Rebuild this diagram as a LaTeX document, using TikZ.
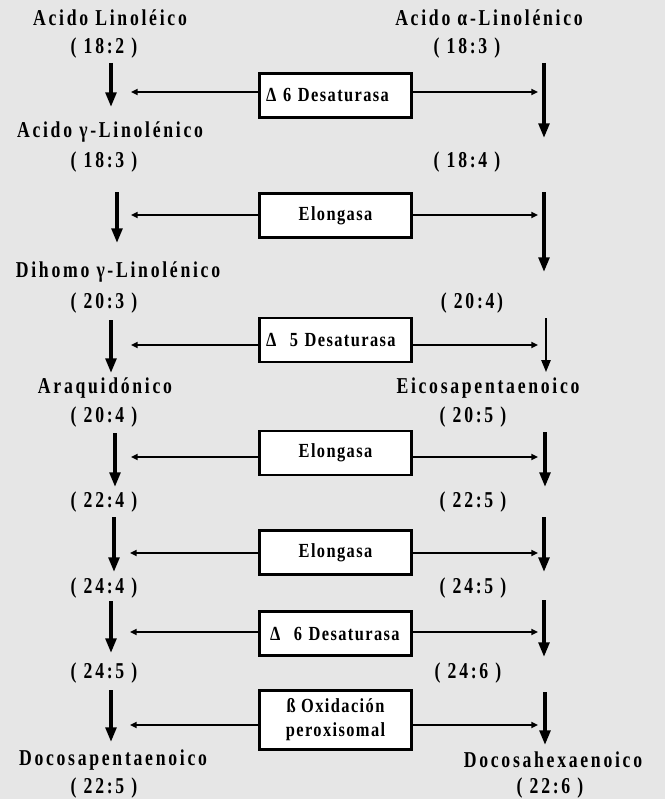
\documentclass[tikz,border=0pt]{standalone}
\usepackage{fontspec}
\setmainfont{Liberation Serif}
\newfontfamily\lblfont[LetterSpace=12,FakeStretch=0.78]{Liberation Serif}
\newfontfamily\enzfont[LetterSpace=7,FakeStretch=0.82]{Liberation Serif}
\usetikzlibrary{arrows.meta}
\definecolor{bg}{HTML}{E6E6E6}
\tikzset{
  lbl/.style={font=\lblfont\bfseries\fontsize{17}{19}\selectfont, inner sep=0pt, anchor=center},
  enz/.style={draw, fill=white, line width=2.2pt, minimum width=114pt, minimum height=33pt,
              inner sep=2pt, font=\enzfont\bfseries\fontsize{15}{18}\selectfont, align=center},
  denz/.style={enz, align=left, text width=104pt},
  varr/.style={-{Triangle[length=11pt,width=8pt]}, line width=2.6pt},
  tvarr/.style={-{Triangle[length=9pt,width=7pt]}, line width=1.3pt},
  harr/.style={-{Triangle[length=5pt,width=4.5pt]}, line width=1.7pt}
}
\begin{document}
\begin{tikzpicture}[x=0.75pt,y=-0.75pt]
\fill[bg] (0,0) rectangle (665,799);
\useasboundingbox (0,0) rectangle (665,799);

% left column labels
\node[lbl] (L0)  at (110,18)  {Acido Linoléico};
\node[lbl] (L0n) at (104,48)  {( 18:2 )};
\node[lbl] (L1)  at (110,132) {Acido γ-Linolénico};
\node[lbl] (L1n) at (104,162) {( 18:3 )};
\node[lbl] (L2)  at (118,272) {Dihomo γ-Linolénico};
\node[lbl] (L2n) at (104,303) {( 20:3 )};
\node[lbl] (L3)  at (105,388) {Araquidónico};
\node[lbl] (L3n) at (104,417) {( 20:4 )};
\node[lbl] (L4n) at (104,502) {( 22:4 )};
\node[lbl] (L5n) at (104,588) {( 24:4 )};
\node[lbl] (L6n) at (104,673) {( 24:5 )};
\node[lbl] (L7)  at (113,760) {Docosapentaenoico};
\node[lbl] (L7n) at (104,788) {( 22:5 )};

% right column labels
\node[lbl] (R0)  at (489,18)  {Acido α-Linolénico};
\node[lbl] (R0n) at (467,48)  {( 18:3 )};
\node[lbl] (R1n) at (467,162) {( 18:4 )};
\node[lbl] (R2n) at (472,303) {( 20:4)};
\node[lbl] (R3)  at (488,388) {Eicosapentaenoico};
\node[lbl] (R3n) at (473,417) {( 20:5 )};
\node[lbl] (R4n) at (473,502) {( 22:5 )};
\node[lbl] (R5n) at (473,588) {( 24:5 )};
\node[lbl] (R6n) at (468,673) {( 24:6 )};
\node[lbl] (R7)  at (553,760) {Docosahexaenoico};
\node[lbl] (R7n) at (550,788) {( 22:6 )};

% enzyme boxes
\node[denz] (B1) at (335.5,95.5)  {Δ 6 Desaturasa};
\node[enz]  (B2) at (335.5,215.5) {Elongasa};
\node[denz] (B3) at (335.5,340)   {Δ\ \ 5 Desaturasa};
\node[enz]  (B4) at (335.5,453)   {Elongasa};
\node[enz]  (B5) at (335.5,552.5) {Elongasa};
\node[denz] (B6) at (335.5,633.5) {\hspace{3pt}Δ\ \ 6 Desaturasa};
\node[enz, minimum height=44pt] (B7) at (335.5,720) {ß Oxidación\\peroxisomal};

% vertical arrow end points
\coordinate (la1) at (111,63);  \coordinate (lb1) at (111,107);
\coordinate (la2) at (117,192); \coordinate (lb2) at (117,243);
\coordinate (la3) at (111,320); \coordinate (lb3) at (111,373);
\coordinate (la4) at (115,433); \coordinate (lb4) at (115,487);
\coordinate (la5) at (114,517); \coordinate (lb5) at (114,572);
\coordinate (la6) at (111,601); \coordinate (lb6) at (111,653);
\coordinate (la7) at (111,690); \coordinate (lb7) at (111,742);

\coordinate (ra1) at (544,63);  \coordinate (rb1) at (544,138);
\coordinate (ra2) at (544,192); \coordinate (rb2) at (544,272);
\coordinate (ra3) at (546,318); \coordinate (rb3) at (546,372);
\coordinate (ra4) at (545,432); \coordinate (rb4) at (545,487);
\coordinate (ra5) at (544,517); \coordinate (rb5) at (544,572);
\coordinate (ra6) at (544,600); \coordinate (rb6) at (544,657);
\coordinate (ra7) at (545,692); \coordinate (rb7) at (545,745);

\foreach \i in {1,2,4,5,6,7} {
  \draw[varr] (la\i) -- (lb\i);
  \draw[varr] (ra\i) -- (rb\i);
}
\draw[varr] (la3) -- (lb3);
\draw[tvarr] (ra3) -- (rb3);

% horizontal arrow end points
\coordinate (hl1) at (131,92);  \coordinate (hr1) at (538,92);
\coordinate (hl2) at (131,215); \coordinate (hr2) at (538,215);
\coordinate (hl3) at (131,345); \coordinate (hr3) at (538,345);
\coordinate (hl4) at (131,457); \coordinate (hr4) at (538,457);
\coordinate (hl5) at (130,553); \coordinate (hr5) at (538,553);
\coordinate (hl6) at (130,632); \coordinate (hr6) at (538,632);
\coordinate (hl7) at (130,725); \coordinate (hr7) at (538,725);

\foreach \i in {1,...,7} {
  \draw[harr] (B\i.west |- hl\i) -- (hl\i);
  \draw[harr] (B\i.east |- hr\i) -- (hr\i);
}
\end{tikzpicture}
\end{document}
